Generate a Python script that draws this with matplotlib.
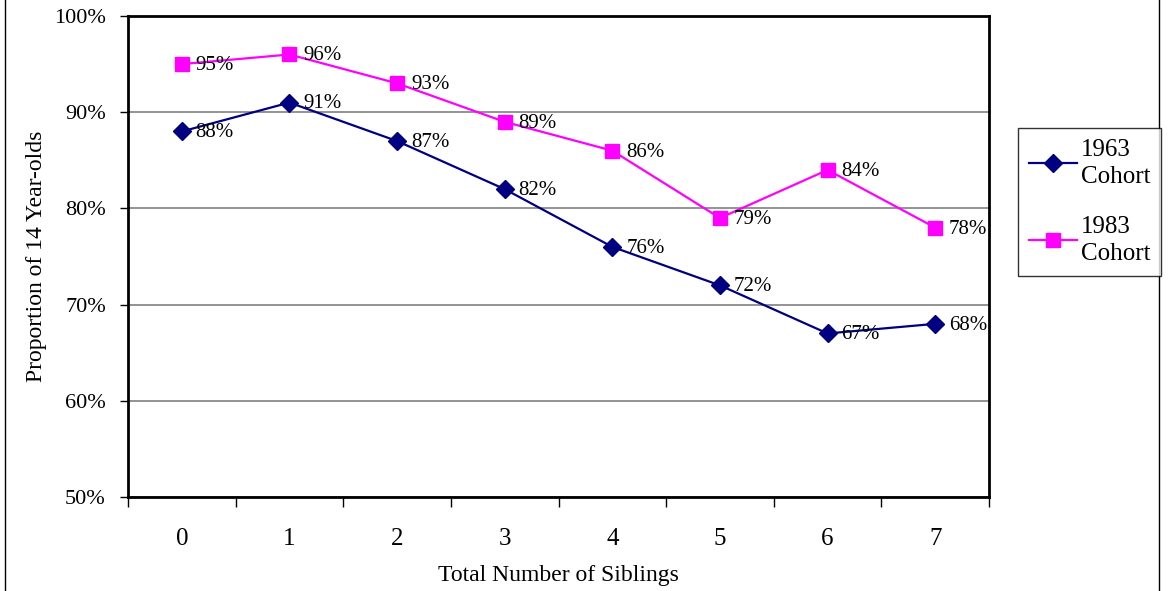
import matplotlib
matplotlib.use("Agg")
import matplotlib.pyplot as plt
from matplotlib.lines import Line2D
from matplotlib.ticker import FixedLocator, FuncFormatter

siblings = [0, 1, 2, 3, 4, 5, 6, 7]
cohort_1963 = [88, 91, 87, 82, 76, 72, 67, 68]
cohort_1983 = [95, 96, 93, 89, 86, 79, 84, 78]
series_names = ["1963\nCohort", "1983\nCohort"]
y_ticks = [50, 60, 70, 80, 90, 100]

plt.rcParams["font.family"] = ["Liberation Serif", "DejaVu Serif"]

fig = plt.figure(figsize=(11.69, 5.91), dpi=100)
ax = fig.add_axes([128 / 1169, 1 - 497 / 591, (989 - 128) / 1169, (497 - 16) / 591])

navy = "#000080"
magenta = "#FF00FF"

ax.plot(siblings, cohort_1963, color=navy, lw=1.6, marker="D", ms=9,
        mec=navy, mfc=navy, label=series_names[0], zorder=3)
ax.plot(siblings, cohort_1983, color=magenta, lw=1.6, marker="s", ms=10,
        mec=magenta, mfc=magenta, label=series_names[1], zorder=3)

for series in (cohort_1963, cohort_1983):
    for x, v in zip(siblings, series):
        ax.annotate(f"{v}%", (x, v), xytext=(10, -1), textcoords="offset points",
                    ha="left", va="center", fontsize=15, zorder=4)

ax.set_xlim(-0.5, len(siblings) - 0.5)
ax.set_ylim(50, 100)

# y axis
ax.yaxis.set_major_locator(FixedLocator(y_ticks))
ax.yaxis.set_major_formatter(FuncFormatter(lambda v, p: f"{int(v)}%"))
ax.tick_params(axis="y", direction="out", length=6, width=1, pad=10, labelsize=16)
ax.grid(axis="y", color="#808080", lw=1.2, zorder=1)

# x axis: tick marks between categories, labels at the categories
ax.xaxis.set_major_locator(FixedLocator([i - 0.5 for i in range(len(siblings) + 1)]))
ax.xaxis.set_minor_locator(FixedLocator(siblings))
ax.xaxis.set_major_formatter(FuncFormatter(lambda v, p: ""))
ax.xaxis.set_minor_formatter(FuncFormatter(lambda v, p: str(int(v))))
ax.tick_params(axis="x", which="major", direction="out", length=7, width=1)
ax.tick_params(axis="x", which="minor", length=0, pad=22, labelsize=18)

for s in ax.spines.values():
    s.set_linewidth(2)
    s.set_color("black")

ax.set_xlabel("Total Number of Siblings", fontsize=17, labelpad=11)
ax.set_ylabel("Proportion of 14 Year-olds", fontsize=17, labelpad=5)

leg = fig.legend(loc="center left", bbox_to_anchor=(1018 / 1169, 1 - 202 / 591),
                 fontsize=18, frameon=True, fancybox=False, edgecolor="black",
                 handlelength=1.9, handletextpad=0.15, labelspacing=1.12,
                 borderpad=0.45, borderaxespad=0)
leg.get_frame().set_linewidth(1)
for t in leg.get_texts():
    t.set_linespacing(1.3)

# outer chart border (left and right edges)
fig.add_artist(Line2D([5 / 1169, 5 / 1169], [0, 1], color="black", lw=1))
fig.add_artist(Line2D([1159 / 1169, 1159 / 1169], [0, 1], color="black", lw=1))

fig.savefig("out.png", dpi=100)
